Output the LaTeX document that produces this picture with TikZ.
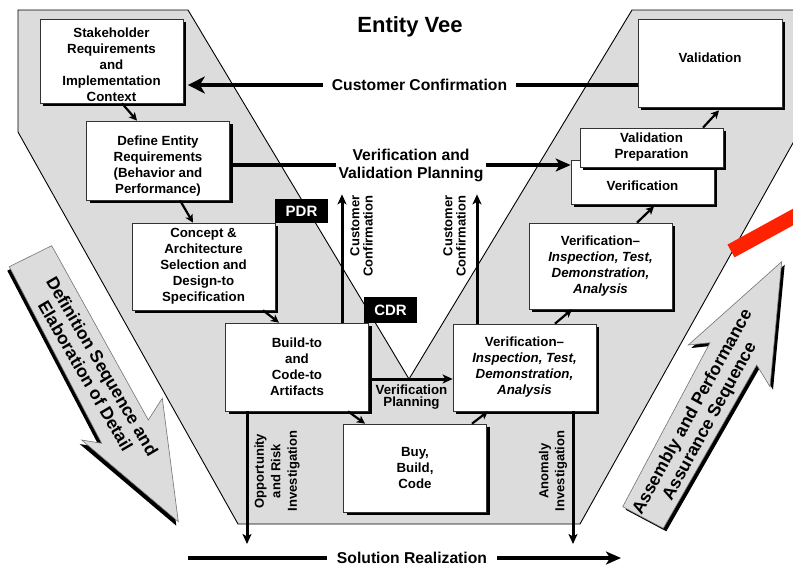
\documentclass[tikz,border=0pt]{standalone}
\usepackage{fontspec}
\setmainfont{Liberation Sans}
\usetikzlibrary{arrows.meta,shadows,calc}

\definecolor{vgray}{RGB}{220,220,220}
\definecolor{vred}{RGB}{255,34,0}

\newcommand{\vbfont}{\fontsize{13.3}{16}\selectfont\bfseries}
\newcommand{\lblfont}{\fontsize{15.7}{18}\selectfont\bfseries}

\begin{document}
\begin{tikzpicture}[x=1pt,y=-1pt,
  box/.style={draw=black!80, line width=0.7pt, fill=white, minimum width=143pt,
    align=center, inner sep=1pt, font=\vbfont,
    drop shadow={shadow xshift=3pt, shadow yshift=-3pt, fill=black, opacity=1}},
  tag/.style={fill=black, text=white, minimum width=53pt, inner sep=0pt,
    font=\fontsize{15}{18}\selectfont\bfseries},
  bigarrow/.style={fill=vgray, draw=black!55, line width=0.6pt, line join=miter},
  bigline/.style={line width=4.5pt},
  midline/.style={line width=3pt, -{Stealth[length=10pt,width=9pt,inset=2.5pt]}},
  flow/.style={line width=2.2pt, -{Stealth[length=8pt,width=8pt,inset=2pt]}},
  sidelbl/.style={rotate=90, inner sep=1pt, font=\fontsize{13}{13.3}\selectfont\bfseries},
  seqlbl/.style={align=center, font=\fontsize{17.5}{19.5}\selectfont\bfseries}
]
\useasboundingbox (0,0) rectangle (793,566);
\clip (0,0) rectangle (793,566);

% the Vee band
\coordinate (vtx) at (409,379);
\draw[fill=vgray, line width=0.9pt, line join=miter]
  (18,10) -- (188,10) -- (vtx) -- (632,10) -- (805,10) -- (805,121.5)
  -- (580,524) -- (238,524) -- (18,132) -- cycle;

% side block arrows
\path[bigarrow, drop shadow={shadow xshift=-2pt, shadow yshift=-4pt, fill=black, opacity=1}]
  (9.3,266.7) -- (51.7,245.7) -- (148.3,420) -- (162.3,398.3) -- (178.3,521.7)
  -- (81.7,440) -- (101.7,443.3) -- cycle;
\node[seqlbl, rotate=-59.7] (defseq)
  at (94,371) {Definition Sequence and\\Elaboration of Detail};

\path[bigarrow, drop shadow={shadow xshift=3pt, shadow yshift=-3pt, fill=black, opacity=1}]
  (622.7,506.7) -- (663.3,528.3) -- (756.7,365) -- (770,386.7) -- (781.7,261.7)
  -- (688.3,345) -- (710,342.7) -- cycle;
\node[seqlbl, rotate=61.3] (assy)
  at (701.5,416.7) {Assembly and Performance\\Assurance Sequence};

% red marker stroke
\draw[vred, line width=14.6pt] (731,251) -- (810,207.7);

% title
\node[font=\fontsize{22}{26}\selectfont\bfseries] (title) at (410,27) {Entity Vee};

% left leg
\node[box, minimum height=84pt] (stake) at (111.5,61)
  {\rule{0pt}{16.7pt}Stakeholder\\Requirements\\and\\Implementation\\Context};
\node[box, minimum height=79pt] (def) at (158,160.5)
  {\rule{0pt}{21.7pt}Define Entity\\Requirements\\(Behavior and\\Performance)};
\node[box, minimum height=87pt] (concept) at (203.5,266.5)
  {Concept \&\\Architecture\\Selection and\\Design-to\\Specification};
\node[box, minimum height=88pt] (build) at (297,367)
  {Build-to\\and\\Code-to\\Artifacts};
\node[box, minimum height=88pt] (buy) at (415,468) {Buy,\\Build,\\Code};

% right leg
\node[box, minimum height=87pt] (verL) at (524.5,367.5)
  {Verification–\\{\itshape Inspection, Test,}\\{\itshape Demonstration,}\\{\itshape Analysis}};
\node[box, minimum height=86pt] (verU) at (600.5,266)
  {Verification–\\{\itshape Inspection, Test,}\\{\itshape Demonstration,}\\{\itshape Analysis}};
\node[box, minimum height=44pt] (verif) at (642.5,182) {\rule{0pt}{16.7pt}Verification};
\node[box, minimum height=39pt] (valprep) at (651.5,147.5) {Validation\\Preparation};
\node[box, minimum height=88pt, minimum width=144pt] (valid) at (710,63)
  {Validation\rule[-10pt]{0pt}{10pt}};

% review milestones
\node[tag, minimum height=24pt] (pdr) at (301.5,211) {PDR};
\node[tag, minimum height=26pt] (cdr) at (390.5,310) {CDR};

% labels on the long connectors
\node[font=\lblfont, inner xsep=9pt] (cc) at (419.5,85) {Customer Confirmation};
\node[font=\lblfont, align=center, inner xsep=2.5pt] (vvp) at (411,165)
  {Verification and\\Validation Planning};
\node[font=\fontsize{13.3}{12}\selectfont\bfseries, align=center] (vp) at (411.5,397.5)
  {Verification\\Planning};
\node[font=\lblfont, inner xsep=10pt] (sr) at (412,558) {Solution Realization};

\node[sidelbl, align=right] (ccl) at (361.5,236) {Customer\\Confirmation};
\node[sidelbl, align=right] (ccr) at (454.5,236) {Customer\\Confirmation};
\node[sidelbl, align=center, font=\fontsize{13}{16.5}\selectfont\bfseries] (ori) at (277,471)
  {Opportunity\\and Risk\\Investigation};
\node[sidelbl, align=center, font=\fontsize{13}{16}\selectfont\bfseries] (ano) at (553,471)
  {Anomaly\\Investigation};

% long connectors
\draw[bigline, -{Stealth[length=17pt,width=17pt,inset=5pt]}]
  (cc.west) -- ($(cc.west -| stake.east)+(4.5,0)$);
\draw[bigline] (cc.east) -- (cc.east -| valid.west);

\draw[bigline] (vvp.west -| def.east) -- (vvp.west);
\draw[bigline, -{Stealth[length=15pt,width=13pt,inset=4pt]}]
  (vvp.east) -- (vvp.east -| verif.west);

\draw[midline] (vtx -| build.east) -- (vtx -| verL.west);

\coordinate (srL) at (188,558);
\coordinate (srR) at (621,558);
\draw[bigline] (srL) -- (sr.west);
\draw[bigline, -{Stealth[length=15pt,width=13pt,inset=4pt]}] (sr.east) -- (srR);

% customer confirmation risers
\coordinate (ccLbot) at ($(build.north)+(45,0)$);
\coordinate (ccRbot) at ($(verL.north)+(-47.5,0)$);
\draw[midline] (ccLbot) -- (ccLbot |- ccl.east);
\draw[midline] (ccRbot) -- (ccRbot |- ccr.east);

% investigation drops
\coordinate (oriTop) at ($(build.south)+(-50,0)$);
\coordinate (oriEnd) at (247,544);
\coordinate (anoTop) at ($(verL.south)+(48.5,0)$);
\coordinate (anoEnd) at (573,544);
\draw[midline] (oriTop) -- (oriEnd);
\draw[midline] (anoTop) -- (anoEnd);

% step-to-step flow
\draw[flow] ($(stake.south)+(10.5,0)$) -- ($(def.north)+(-21,0)$);
\draw[flow] ($(def.south)+(22,0)$) -- ($(concept.north)+(-10.5,0)$);
\draw[flow] ($(concept.south)+(59.5,0)$) -- ($(build.north)+(-18,0)$);
\draw[flow] ($(build.south)+(51,0)$) -- ($(buy.north)+(-50,0)$);
\draw[flow] ($(buy.north)+(57,0)$) -- ($(verL.south)+(-36.5,0)$);
\draw[flow] ($(verL.north)+(30.5,0)$) -- ($(verU.south)+(-28.5,0)$);
\draw[flow] ($(verU.north)+(36.5,0)$) -- ($(verif.south)+(11.5,2)$);
\draw[flow] ($(valprep.north)+(51.5,0)$) -- ($(valid.south)+(9,3)$);
\end{tikzpicture}
\end{document}
